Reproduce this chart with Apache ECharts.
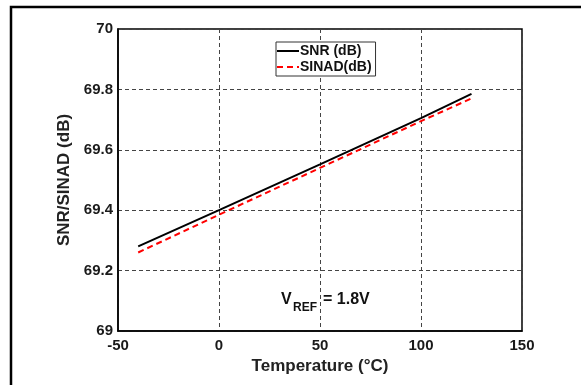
<!DOCTYPE html>
<html>
<head>
<meta charset="utf-8">
<script src="https://cdn.jsdelivr.net/npm/echarts@6/dist/echarts.min.js"></script>
<style>
  html, body { margin: 0; padding: 0; background: #fff; }
  #chart { width: 581px; height: 385px; }
</style>
</head>
<body>
<div id="chart"></div>
<script>
// temperature points (°C)
const temps = [-40, 0, 50, 100, 125];
// SNR and SINAD in dB
const snr = [69.28, 69.40, 69.552, 69.705, 69.785];
const sinad = [69.26, 69.385, 69.54, 69.695, 69.77];

const xTicks = [-50, 0, 50, 100, 150];
const yTicks = [69, 69.2, 69.4, 69.6, 69.8, 70];

const font = 'Liberation Sans, Arial, sans-serif';

const chart = echarts.init(document.getElementById('chart'));

const option = {
    backgroundColor: '#fff',
    animation: false,
    grid: {
        left: 118,
        right: 59,
        top: 29,
        bottom: 54,
        show: true,
        borderColor: '#000',
        borderWidth: 1.5
    },
    legend: {
        left: 276,
        top: 42,
        orient: 'vertical',
        itemWidth: 22,
        itemHeight: 12,
        itemGap: 2,
        padding: [2, 4, 2, 0],
        borderColor: '#333',
        borderWidth: 1,
        backgroundColor: '#fff',
        itemStyle: { opacity: 0 },
        textStyle: { fontFamily: font, fontWeight: 'bold', fontSize: 14, color: '#111', padding: [0, 0, 0, -4] },
        data: ['SNR (dB)', 'SINAD(dB)']
    },
    xAxis: {
        type: 'value',
        min: xTicks[0],
        max: xTicks[xTicks.length - 1],
        interval: 50,
        name: 'Temperature (°C)',
        nameLocation: 'middle',
        nameGap: 25,
        nameTextStyle: { fontFamily: font, fontWeight: 'bold', fontSize: 17, color: '#222' },
        axisLine: { show: true, onZero: false, lineStyle: { color: '#000', width: 1.5 } },
        axisTick: { show: false },
        axisLabel: { fontFamily: font, fontWeight: 'bold', fontSize: 15, color: '#1a1a1a', margin: 7 },
        splitLine: { show: true, lineStyle: { color: '#444', type: [4, 3], width: 1 } }
    },
    yAxis: {
        type: 'value',
        min: yTicks[0],
        max: yTicks[yTicks.length - 1],
        interval: 0.2,
        name: 'SNR/SINAD (dB)',
        nameLocation: 'middle',
        nameGap: 39,
        nameTextStyle: { fontFamily: font, fontWeight: 'bold', fontSize: 17, color: '#222' },
        axisLine: { show: true, onZero: false, lineStyle: { color: '#000', width: 1.5 } },
        axisTick: { show: false },
        axisLabel: {
            fontFamily: font, fontWeight: 'bold', fontSize: 15, color: '#1a1a1a', margin: 5,
            formatter: v => String(Math.round(v * 10) / 10)
        },
        splitLine: { show: true, lineStyle: { color: '#444', type: [4, 3], width: 1 } }
    },
    series: [
        {
            name: 'SNR (dB)',
            type: 'line',
            data: temps.map((t, i) => [t, snr[i]]),
            showSymbol: false,
            symbol: 'none',
            color: '#000',
            lineStyle: { color: '#000', width: 2 },
            z: 3
        },
        {
            name: 'SINAD(dB)',
            type: 'line',
            data: temps.map((t, i) => [t, sinad[i]]),
            showSymbol: false,
            symbol: 'none',
            color: '#f00',
            lineStyle: { color: '#f00', width: 2, type: [6, 4] },
            z: 2
        }
    ],
    graphic: [
        {
            type: 'polyline',
            shape: { points: [[11, 385], [11, 7], [581, 7]] },
            style: { stroke: '#000', lineWidth: 2.5, fill: null },
            silent: true
        },
        {
            type: 'text',
            left: 281,
            top: 292,
            style: { text: 'V', fontFamily: font, fontWeight: 'bold', fontSize: 16, fill: '#111' }
        },
        {
            type: 'text',
            left: 293,
            top: 302,
            style: { text: 'REF', fontFamily: font, fontWeight: 'bold', fontSize: 12, fill: '#111' }
        },
        {
            type: 'text',
            left: 323,
            top: 292,
            style: { text: '= 1.8V', fontFamily: font, fontWeight: 'bold', fontSize: 16, fill: '#111' }
        }
    ]
};

chart.setOption(option);
</script>
</body>
</html>
